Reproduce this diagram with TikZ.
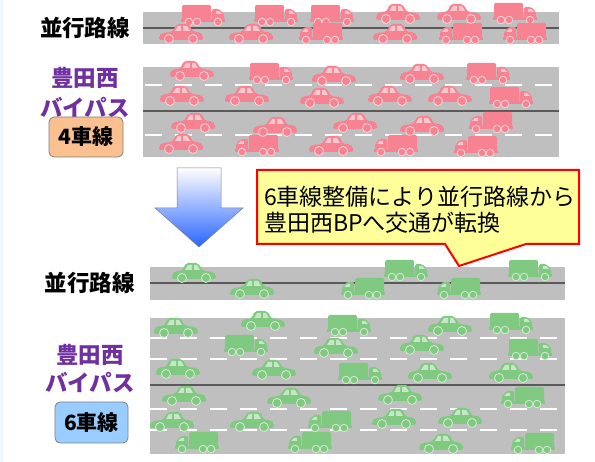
\documentclass[tikz,border=0pt]{standalone}
\usepackage{fontspec}
\setmainfont{Noto Sans CJK JP}

\definecolor{carpink}{RGB}{247,131,146}
\definecolor{cargreen}{RGB}{128,201,128}
\definecolor{roadgray}{RGB}{191,191,191}
\definecolor{linegray}{RGB}{90,90,90}
\definecolor{bpviolet}{RGB}{112,48,160}
\definecolor{boxorange}{RGB}{250,192,143}
\definecolor{boxblue}{RGB}{153,204,255}
\definecolor{notefill}{RGB}{255,255,153}
\definecolor{arrowblue}{RGB}{40,100,255}
\colorlet{veh}{carpink}

\tikzset{
  % sedan, facing right
  car/.pic={
    \fill[veh, rounded corners=2pt] (-22,7) -- (-22,2) -- (-18,-1) -- (-12,-1) -- (-8,-9)
      -- (4,-9) -- (9,-1) -- (19,0) -- (22,3) -- (22,7) -- cycle;
    \fill[veh!45!white] (-9,-2) -- (-6,-7) -- (-2,-7) -- (-2,-2) -- cycle;
    \fill[veh!45!white] (0,-2) -- (0,-7) -- (3,-7) -- (6,-2) -- cycle;
    \fill[veh, draw=veh!35!white, line width=0.8pt] (-12,6) circle (4.5);
    \fill[veh, draw=veh!35!white, line width=0.8pt] (12,6) circle (4.5);
  },
  % box truck, facing right
  truck/.pic={
    \fill[veh, rounded corners=1.5pt] (-21,-10) rectangle (8,5);
    \fill[veh, rounded corners=1.5pt] (9,-6) -- (16,-6) -- (21,-1) -- (21,6) -- (9,6) -- cycle;
    \fill[veh!45!white] (13,-4) -- (16,-4) -- (19,-1) -- (13,-1) -- cycle;
    \fill[veh] (-22,4) rectangle (22,7);
    \foreach \w in {-14,-6,15}
      \fill[veh, draw=veh!35!white, line width=0.8pt] (\w,7) circle (3.8);
  },
  road/.style={fill=roadgray},
  centerline/.style={draw=linegray, line width=2.4pt},
  lanedash/.style={draw=white, line width=2.6pt, dash pattern=on 17pt off 13pt},
  roadlabel/.style={font=\fontsize{22.5}{24}\selectfont\bfseries, inner sep=0pt},
  bplabel/.style={roadlabel, text=bpviolet},
  lanebox/.style={draw=gray, line width=0.8pt, rounded corners=5pt, inner sep=0pt,
    minimum width=74pt, minimum height=40pt, font=\fontsize{21}{24}\selectfont\bfseries},
}

\begin{document}
\begin{tikzpicture}[x=1pt, y=-1pt]
    \useasboundingbox (0,0) rectangle (595,462);
    \fill[cyan!8] (0,0) rectangle (3,462);

    % --- before: 4 lanes ---
    \fill[road] (143,12) rectangle (559,44);
    \draw[centerline] (143,28) -- (559,28);
    \fill[road] (143,67) rectangle (559,157);
    \draw[centerline] (143,111) -- (559,111);
    \foreach \y in {85,135}
        \draw[lanedash] (145,\y) -- (559,\y);

    \foreach \x/\y in {203/15, 276/15, 332/15, 515/13, 271/73, 488/73, 511/97}
        \pic at (\x,\y) {truck};
    \foreach \x/\y in {321/33, 461/33, 525/33, 491/122, 257/145, 396/145, 476/146}
        \pic[xscale=-1] at (\x,\y) {truck};
    \foreach \x/\y in {398/13, 459/13, 192/70, 334/75, 422/73,
                       182/95, 247/95, 322/97, 390/95, 450/95}
        \pic at (\x,\y) {car};
    \foreach \x/\y in {181/33, 251/33, 395/33, 193/122, 275/126, 355/122,
                       422/125, 181/143, 331/145}
        \pic[xscale=-1] at (\x,\y) {car};

    \node[roadlabel] (parallelA) at (85,28) {並行路線};
    \node[bplabel] (bpA1) at (85,78) {豊田西};
    \node[bplabel] (bpA2) at (85,107) {バイパス};
    \node[lanebox, fill=boxorange] (lanesA) at (86,137) {4車線};

    % arrow down
    \path[draw=gray, line width=0.5pt, top color=white, bottom color=arrowblue]
        (177,168) -- (221,168) -- (221,208) -- (243,208) -- (199,247)
        -- (155,208) -- (177,208) -- cycle;

    % callout
    \path[draw=red, line width=2pt, fill=notefill]
        (257,170) -- (579,170) -- (579,244) -- (526,244) -- (459,266)
        -- (445,244) -- (257,244) -- cycle;
    \node[anchor=west, align=left, inner sep=0pt,
          font=\fontsize{23}{26}\selectfont] (note) at (264,210)
        {6車線整備により並行路線から\\豊田西BPへ交通が転換};

    % --- after: 6 lanes ---
    \colorlet{veh}{cargreen}
    \fill[road] (150,267) rectangle (565,300);
    \draw[centerline] (150,283) -- (565,283);
    \fill[road] (150,318) rectangle (565,454);
    \draw[centerline] (150,385) -- (565,385);
    \foreach \y in {338,359,409,430}
        \draw[lanedash] (150,\y) -- (565,\y);

    \foreach \x/\y in {406/270, 530/270, 246/345, 349/325, 511/323, 530/349, 360/373}
        \pic at (\x,\y) {truck};
    \foreach \x/\y in {363/288, 459/288, 197/442, 310/442, 523/397, 330/421, 533/443}
        \pic[xscale=-1] at (\x,\y) {truck};
    \foreach \x/\y in {194/272, 176/327, 263/320, 450/325, 178/368, 274/369,
                       336/347, 422/344, 430/372, 511/372}
        \pic at (\x,\y) {car};
    \foreach \x/\y in {252/288, 184/395, 289/397, 400/394, 172/421, 252/421,
                       394/418, 460/417, 441/443}
        \pic[xscale=-1] at (\x,\y) {car};

    \node[roadlabel] (parallelB) at (90,283) {並行路線};
    \node[bplabel] (bpB1) at (90,355) {豊田西};
    \node[bplabel] (bpB2) at (90,382) {バイパス};
    \node[lanebox, fill=boxblue, minimum width=73pt, minimum height=41pt] (lanesB)
        at (91.5,422.5) {6車線};
\end{tikzpicture}
\end{document}
